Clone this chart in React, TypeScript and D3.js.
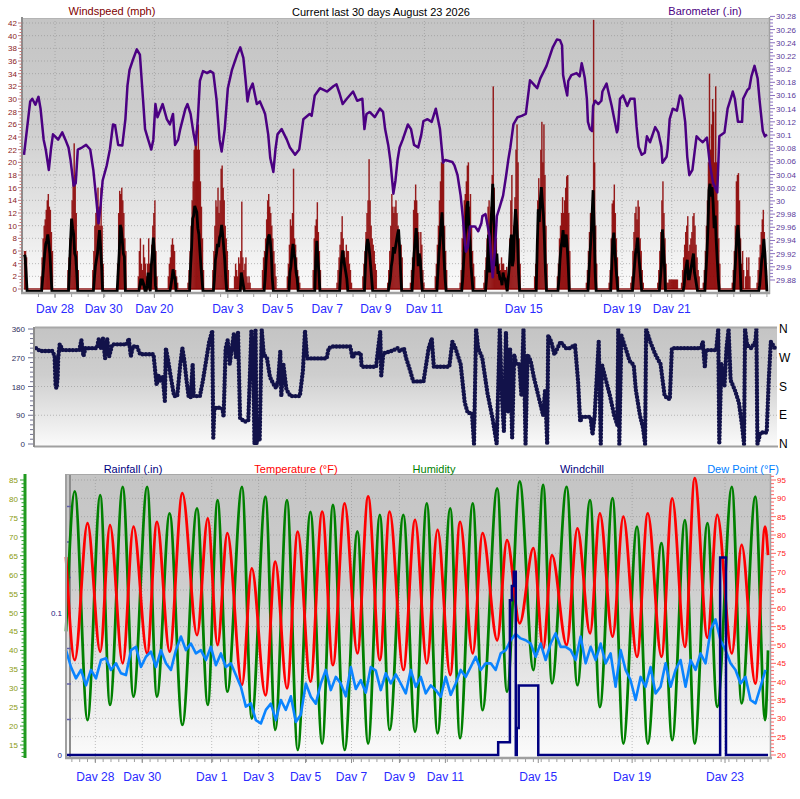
import * as d3 from 'd3'

const FONT = 'Liberation Sans, Arial, sans-serif'

// ---------- top panel: barometer (.in), [hour, value] ----------
const barometer: [number, number][] = [
  [0, 30.07], [4, 30.124], [6, 30.151], [8, 30.155], [11, 30.146], [14, 30.158], [16, 30.14], [19, 30.093],
  [21, 30.078], [24, 30.047], [26, 30.078], [28, 30.101], [30, 30.098], [33, 30.093], [37, 30.104], [40, 30.093],
  [43, 30.081], [45, 30.062], [48, 30.023], [50, 30.027], [52, 30.078], [56, 30.081], [60, 30.085], [64, 30.078],
  [67, 30.047], [70, 30.0], [72, 29.966], [74, 29.993], [76, 30.031], [80, 30.054], [83, 30.078], [86, 30.116],
  [88, 30.115], [91, 30.085], [95, 30.084], [98, 30.124], [100, 30.175], [102, 30.199], [105, 30.213], [109, 30.23],
  [112, 30.222], [115, 30.155], [117, 30.109], [120, 30.093], [123, 30.078], [125, 30.093], [127, 30.147], [129, 30.127],
  [134, 30.147], [138, 30.124], [141, 30.116], [144, 30.132], [146, 30.085], [149, 30.093], [151, 30.109], [156, 30.14],
  [158, 30.147], [161, 30.132], [164, 30.101], [166, 30.085], [168, 30.124], [170, 30.182], [173, 30.197], [177, 30.194],
  [180, 30.197], [183, 30.194], [186, 30.155], [189, 30.093], [191, 30.075], [194, 30.109], [197, 30.171], [201, 30.199],
  [206, 30.222], [209, 30.233], [212, 30.217], [214, 30.186], [216, 30.151], [218, 30.168], [221, 30.178], [225, 30.147],
  [228, 30.151], [231, 30.14], [233, 30.132], [236, 30.101], [238, 30.065], [241, 30.044], [243, 30.078], [245, 30.101],
  [249, 30.109], [254, 30.093], [257, 30.081], [262, 30.07], [266, 30.078], [270, 30.124], [276, 30.132], [278, 30.129],
  [281, 30.16], [286, 30.171], [293, 30.166], [299, 30.174], [302, 30.177], [305, 30.163], [308, 30.147], [312, 30.155],
  [318, 30.166], [322, 30.152], [327, 30.155], [329, 30.109], [331, 30.132], [334, 30.135], [339, 30.127], [344, 30.14],
  [347, 30.135], [349, 30.109], [352, 30.085], [354, 30.062], [357, 30.011], [359, 30.031], [361, 30.062], [363, 30.081],
  [366, 30.093], [371, 30.116], [374, 30.109], [377, 30.085], [381, 30.081], [384, 30.101], [386, 30.121], [390, 30.124],
  [394, 30.12], [398, 30.14], [402, 30.109], [405, 30.058], [407, 30.062], [414, 30.059], [416, 30.054], [419, 30.039],
  [422, 30.008], [424, 29.977], [427, 29.923], [429, 29.93], [431, 29.961], [436, 29.961], [439, 29.954], [442, 29.966],
  [443, 29.977], [446, 29.98], [450, 29.946], [452, 29.903], [453, 29.884], [455, 29.923], [457, 29.977], [460, 29.992],
  [463, 30.008], [466, 30.039], [468, 30.062], [470, 30.081], [473, 30.116], [477, 30.127], [481, 30.129], [485, 30.132],
  [489, 30.183], [492, 30.178], [496, 30.171], [499, 30.186], [505, 30.205], [511, 30.233], [515, 30.245], [518, 30.244],
  [520, 30.236], [521, 30.191], [523, 30.174], [525, 30.16], [526, 30.182], [529, 30.191], [534, 30.194], [537, 30.189],
  [539, 30.209], [540, 30.202], [542, 30.186], [544, 30.155], [545, 30.12], [547, 30.109], [549, 30.106], [550, 30.144],
  [552, 30.152], [555, 30.147], [558, 30.152], [559, 30.166], [563, 30.178], [564, 30.171], [568, 30.144], [571, 30.12],
  [573, 30.104], [574, 30.109], [576, 30.155], [579, 30.16], [583, 30.144], [586, 30.155], [590, 30.155], [592, 30.113],
  [594, 30.082], [597, 30.07], [600, 30.073], [602, 30.098], [605, 30.089], [610, 30.112], [613, 30.104], [616, 30.082],
  [617, 30.058], [621, 30.067], [622, 30.078], [624, 30.124], [627, 30.14], [631, 30.137], [634, 30.16], [636, 30.155],
  [639, 30.12], [641, 30.067], [643, 30.039], [646, 30.047], [648, 30.073], [650, 30.098], [653, 30.093], [656, 30.089],
  [660, 30.096], [663, 30.054], [666, 30.027], [670, 30.013], [672, 30.098], [677, 30.104], [680, 30.14], [684, 30.16],
  [685, 30.166], [687, 30.155], [690, 30.12], [694, 30.12], [695, 30.155], [699, 30.168], [701, 30.171], [703, 30.189],
  [706, 30.205], [709, 30.186], [711, 30.151], [714, 30.106], [716, 30.098], [718, 30.101],
]

// wind gusts (mph): windy stretches as [start hour, hourly values]
const gustBursts: [number, number[]][] = [
  [0, [6, 6, 5, 0]],
  [16, [2, 5, 8, 10, 11, 12.5, 14, 15, 13, 12.5, 9, 6, 0]],
  [42, [3, 5, 8, 11, 14, 17.5, 23, 18, 12, 6, 3, 0]],
  [66, [3, 6, 10, 12, 14, 16, 13, 10, 16, 10, 4, 0]],
  [90, [4, 12, 15.5, 15, 16, 14, 12, 8, 6, 0]],
  [110, [2, 6, 8, 4, 3, 7, 5, 4, 2, 4, 8, 4, 3, 7, 10, 12, 14, 6, 2, 0]],
  [139, [2, 4, 5, 7, 8, 7, 6, 3, 2, 1, 0]],
  [158, [1, 3, 6, 10, 14, 17, 22, 24, 25, 22, 26, 22, 17, 13, 8, 3, 0]],
  [182, [3, 6, 10, 14, 13, 16, 12, 14, 19, 19.5, 16, 14, 10, 8, 6, 3, 0]],
  [203, [2, 4, 3, 2, 5, 4, 6, 13.8, 5, 3, 4, 5, 2, 1, 2, 1, 0]],
  [230, [3, 5, 6, 8, 11, 14, 15, 13, 12, 10, 8, 6, 4, 2, 0]],
  [254, [2, 4, 7, 11, 10, 12, 19, 8, 7, 5, 3, 2, 1, 0]],
  [279, [3, 8, 10, 11, 13.7, 9, 6, 3, 0]],
  [302, [1, 3, 5, 7, 9, 11.5, 8, 6, 5, 7, 6, 6, 4, 3, 1, 0]],
  [327, [2, 4, 6, 9, 12, 14, 20.5, 14, 10, 8, 7, 6, 4, 3, 0]],
  [351, [1, 3, 6, 10, 15, 13, 12, 13, 14, 12, 10, 8, 6, 7, 5, 0]],
  [373, [1, 3, 5, 12.5, 14, 16.5, 14, 12, 9, 5, 9, 7, 3, 1, 0]],
  [397, [2, 4, 7, 10, 14, 17, 20, 21, 19.8, 10, 6, 3, 0]],
  [421, [1, 3, 8, 11, 14, 15, 17, 19.5, 20, 13, 15, 10, 6, 4, 2, 0]],
  [444, [1, 3, 5, 8, 13, 14, 6, 13, 18, 32, 16, 10, 8, 4, 3, 4, 3, 5, 4, 4, 3, 3, 3.5, 2, 4, 8, 14, 18, 8, 10, 14.5, 22, 26, 20, 8, 4, 0]],
  [493, [2, 4, 8, 14, 17.5, 14, 22, 26.4, 20, 26, 18, 10, 4, 0]],
  [515, [2, 4, 8, 10, 12, 14.5, 12, 14, 16, 17.8, 18, 12, 6, 0]],
  [543, [1, 3, 6, 9, 12, 10, 14, 42.5, 20, 10, 4, 0]],
  [565, [1, 3, 8, 13.5, 14, 16.5, 12, 8, 5, 2, 0]],
  [586, [1, 2, 6, 9, 12, 13, 11, 14, 13, 8, 6, 3, 1, 0]],
  [612, [1, 3, 6, 9, 14, 17, 12, 8, 4, 1, 1, 1.5, 1.5, 1.5, 1.5, 1.5, 1.5, 1.5, 1.5, 1.5, 0]],
  [635, [1, 3, 5, 7, 9, 10, 11.5, 6, 7, 8, 9, 11.5, 12, 10, 7, 5, 3, 2, 0]],
  [656, [1, 3, 6, 10, 14, 20, 34, 22, 26, 30, 28, 20, 32, 20, 14, 8, 4, 0]],
  [684, [1, 3, 6, 10, 17, 18, 18.3, 14, 8, 4, 6, 3, 0, 2, 5, 3, 5, 2, 0]],
  [708, [1, 3, 5, 7, 9, 11, 12.5, 9, 6, 3, 0]],
]

// average wind speed (mph): [start hour, hourly values]
const avgBursts: [number, number[]][] = [
  [0, [5.8, 5.6, 3, 0]],
  [16, [0, 0, 2, 4, 6, 7.5, 8, 9, 7.5, 6, 3, 0, 0]],
  [42, [0, 0, 4, 8, 11.5, 10, 9, 6, 5.5, 3, 0, 0]],
  [66, [0, 0, 2, 4, 5, 6, 8, 9.7, 7, 4, 0, 0]],
  [90, [0, 3, 6, 10.5, 10, 8, 6, 5.5, 0, 0]],
  [110, [0, 0, 1, 2, 1, 1.5, 1, 0, 0, 1, 3, 1, 0, 4, 6, 8.5, 6, 1, 0, 0]],
  [139, [0, 0, 0, 1, 2, 3.5, 2.5, 2, 0, 0, 0]],
  [158, [0, 0, 0, 4, 7, 11.5, 12, 13.5, 13, 12.5, 10, 9, 6.5, 4, 2, 0, 0]],
  [182, [0, 0, 2, 5, 6, 7.5, 7, 8.5, 9, 10.5, 9, 7, 5, 2, 0, 0, 0]],
  [203, [0, 0, 0, 0, 0, 0, 0, 3, 2, 1, 0]],
  [230, [0, 0, 0, 2, 5, 7, 8.5, 9, 8, 6, 2, 0]],
  [254, [0, 0, 0, 3, 4, 6, 7.5, 6, 5, 3, 2, 0]],
  [279, [0, 0, 0, 5, 8, 5, 3, 0]],
  [302, [0, 0, 0, 0, 3, 5, 6.5, 5, 4, 3, 2, 0]],
  [327, [0, 0, 0, 4, 7, 8.3, 7.5, 6, 4, 2, 0]],
  [351, [0, 0, 1, 2, 4, 5, 7, 6, 7, 8, 9, 9.8, 7, 3, 0]],
  [373, [0, 0, 0, 3, 6, 8, 10, 8, 4, 6, 5, 2, 0]],
  [397, [0, 0, 0, 3, 6, 8, 10.5, 12.5, 9, 5, 2, 0]],
  [421, [0, 0, 0, 2, 5, 8, 10, 13.5, 14.3, 10, 8, 4, 2, 0]],
  [444, [0, 0, 0, 2, 5, 9, 3, 10, 13, 17, 12, 8, 4, 6, 3, 3, 2, 2, 1, 3, 2, 2, 1, 0, 2, 4, 7, 9, 4, 5, 10, 13, 11, 8, 3, 0]],
  [493, [0, 0, 0, 7, 13, 11, 14.5, 16.5, 14, 12, 8, 3, 0]],
  [515, [0, 0, 2, 5, 7, 8, 9.7, 7, 8, 9, 7, 4, 0]],
  [543, [0, 0, 0, 3, 6, 8.5, 12, 16, 10, 3, 0]],
  [565, [0, 0, 0, 4, 8, 9.3, 6.5, 4, 2, 0]],
  [586, [0, 0, 0, 2, 4, 6, 7, 8.5, 6, 4, 2, 0]],
  [612, [0, 0, 0, 2, 4, 9.8, 7, 4, 0]],
  [635, [0, 0, 0, 1, 3, 4, 5, 2, 2, 3, 4, 5, 6, 3, 2, 1, 0]],
  [656, [0, 0, 0, 3, 6, 10, 16, 17, 15, 16.5, 14, 10, 12, 8, 5, 2, 0]],
  [684, [0, 0, 0, 3, 6, 9, 10.5, 8, 4, 0]],
  [708, [0, 0, 0, 1, 3, 5, 6, 8.3, 6, 3, 0]],
]

// ---------- middle panel: wind direction (degrees), [hour, value] ----------
const windDir: [number, number][] = [
  [1, 300], [5, 291], [17, 291], [19, 275], [20, 180], [21, 175], [22, 210], [22.5, 270], [24, 312], [27, 294],
  [43, 294], [45, 325], [47, 275], [49, 300], [60, 300], [62, 330], [64, 300], [66, 330], [68, 268], [70, 330],
  [72, 275], [75, 312], [89, 312], [91, 330], [93, 275], [95, 305], [99, 305], [102, 281], [115, 281], [117, 216],
  [118, 185], [120, 216], [122, 195], [124, 210], [126, 135], [127, 300], [129, 265], [132, 205], [135, 150], [138, 150],
  [141, 250], [143, 300], [145, 260], [147, 200], [149, 150], [151, 145], [153, 250], [154, 150], [160, 150], [163, 200],
  [166, 260], [169, 320], [172, 355], [173, 20], [174, 110], [177, 115], [182, 110], [183, 85], [185, 300], [187, 325],
  [189, 250], [191, 300], [193, 345], [195, 270], [197, 350], [199, 80], [204, 70], [207, 75], [210, 355], [212, 200],
  [213, 0], [214, 360], [215, 0], [217, 80], [218, 10], [220, 358], [222, 280], [225, 270], [228, 210], [231, 190],
  [234, 175], [236, 200], [238, 290], [239, 150], [241, 250], [244, 170], [248, 150], [257, 150], [260, 230], [262, 355],
  [264, 268], [270, 268], [283, 268], [285, 300], [289, 305], [306, 305], [308, 270], [311, 284], [316, 284], [317, 242],
  [331, 242], [333, 300], [335, 352], [336, 215], [338, 284], [345, 290], [352, 300], [354, 290], [358, 300], [360, 270],
  [364, 230], [367, 196], [377, 196], [382, 300], [385, 330], [387, 242], [402, 242], [405, 320], [408, 300], [413, 250],
  [417, 130], [420, 97], [424, 97], [426, 0], [428, 360], [430, 300], [434, 270], [439, 160], [444, 80], [448, 0],
  [451, 360], [453, 150], [455, 40], [457, 350], [459, 100], [461, 300], [463, 20], [465, 280], [467, 250], [470, 250],
  [472, 150], [474, 360], [476, 0], [478, 280], [481, 260], [484, 210], [490, 130], [493, 90], [495, 170], [497, 0],
  [498, 340], [501, 320], [504, 280], [507, 300], [510, 320], [515, 300], [519, 300], [524, 310], [527, 195], [529, 70],
  [531, 85], [539, 85], [541, 30], [543, 85], [547, 320], [549, 0], [550, 250], [554, 200], [558, 150], [562, 90],
  [565, 60], [566, 360], [567, 0], [569, 340], [573, 300], [577, 260], [581, 247], [583, 170], [587, 90], [590, 50],
  [592, 0], [593, 360], [597, 320], [602, 280], [607, 250], [611, 150], [616, 140], [618, 300], [634, 300], [646, 300],
  [648, 320], [650, 240], [651, 294], [661, 294], [663, 360], [664, 0], [666, 250], [669, 180], [671, 300], [673, 360],
  [675, 200], [679, 170], [683, 130], [686, 60], [688, 0], [689, 360], [691, 310], [695, 300], [699, 320], [700, 360],
  [701, 0], [704, 36], [710, 36], [712, 200], [714, 320], [718, 300],
]

// ---------- bottom panel ----------
// hours of the daily lows / highs of temperature (humidity turns the other way)
const extremaHours = [
  0, 9, 22, 35, 45, 58, 69, 83, 93, 106, 119, 134, 145, 155, 165, 180, 190, 204, 214, 226, 237,
  250, 262, 273, 285, 298, 309, 321, 331, 345, 357, 369, 380, 393, 403, 416, 426, 441, 451, 464, 478,
  488, 497, 512, 523, 536, 546, 559, 570, 584, 595, 609, 620, 633, 643, 656, 666, 681, 691, 705, 715, 718,
]
const temperature = [
  74, 45.9, 83.2, 48.2, 82.7, 45, 82.3, 47.7, 83.6, 48.2, 91.4, 52.7, 84.5, 50, 80.5, 39.1, 70.9, 36.3, 72.7, 38.2, 80.9,
  40, 86.4, 44.5, 88.6, 47.7, 90.5, 45.9, 86.4, 43.2, 84.1, 45, 81.4, 41.8, 83.6, 47.7, 80.5, 51.3, 78.6, 55.9, 76.4,
  49, 74.5, 50, 81.8, 53.2, 85.9, 52.3, 85, 46.8, 85.9, 46.8, 90, 49.5, 95.5, 52, 85.5, 47.7, 77.3, 39.5, 82.3, 74.5,
]
const humidity = [
  45, 82, 21.6, 81, 25.6, 83.2, 27.8, 83.2, 27.8, 76.2, 20.3, 77.5, 25.6, 79.7, 29.1, 83.2, 22, 80.6, 19, 79.7, 13.7,
  76.6, 15.4, 78.4, 13.7, 71.4, 15.4, 75.8, 19, 75.8, 18.5, 78.8, 18.1, 77.5, 16.8, 78.8, 24.2, 82.8, 29.1, 84.6, 34.8,
  83.7, 31.3, 83.2, 30.8, 79.7, 25, 80.2, 15.4, 72.7, 15.4, 68.3, 16.3, 74.4, 15.4, 73.6, 25.1, 83.2, 26, 80.6, 21.6, 40,
]
// dew point (°F), one reading every 5.11 hours
const dewStep = 5.11
const dewPoint = [
  48.6, 44, 40.9, 43.2, 39, 43.2, 40.9, 45.9, 46.4, 43.2, 45, 42.3, 41.8, 48.6, 49.5, 44, 46.8, 48.2, 44, 48.6,
  45, 43.2, 48.6, 52.3, 48.6, 50.4, 47.7, 48.6, 45.9, 49.5, 44.5, 47.7, 44, 45, 41.8, 38.6, 33.2, 34.1, 29.5, 28.6,
  32.3, 34, 29.5, 35, 32.3, 36, 29, 31, 39.5, 35.9, 34, 39.5, 43.2, 37.7, 41.3, 39.5, 36, 44, 38, 40.4,
  37, 44, 43, 37.7, 42.3, 39.5, 42, 39.5, 36.8, 43.2, 38.6, 41.3, 36.8, 39, 37.7, 35.9, 41.3, 36.4, 39.5, 43.2,
  41.3, 44, 46.8, 43.2, 45, 45, 43.2, 47.7, 48.6, 51.3, 53, 51.8, 51.3, 50.4, 46.8, 50.4, 45.9, 50.4, 53.2, 49.5,
  49.5, 48.6, 45.9, 52.3, 45, 49.5, 45.9, 50.4, 45, 47.7, 38.6, 48.6, 43.2, 40.4, 35, 41.3, 38.6, 44, 36.8, 38.6,
  45, 38.6, 43.2, 45.9, 38.6, 45.9, 43.2, 47.7, 45, 54, 57, 51.3, 48.6, 45, 43.2, 39.5, 41.3, 35, 34.1, 38.6, 43.2,
]
// rainfall (.in), [hour, value] held until the next entry
const rainfall: [number, number][] = [
  [0, 0], [442, 0.009], [454, 0.109], [456, 0.119], [458, 0.129], [460, 0], [461, 0.019], [463, 0.049],
  [483, 0], [669, 0.139], [675, 0], [718, 0],
]

// day labels, [label, hour]
const topDays: [string, number][] = [
  ['Dav 28', 30], ['Dav 30', 77], ['Dav 20', 126], ['Dav 3', 197], ['Dav 5', 245], ['Dav 7', 293],
  ['Dav 9', 340], ['Dav 11', 387], ['Dav 15', 483], ['Dav 19', 578], ['Dav 21', 626],
]
const bottomDays: [string, number][] = [
  ['Dav 28', 30], ['Dav 30', 78], ['Dav 1', 149], ['Dav 3', 197], ['Dav 5', 245], ['Dav 7', 292],
  ['Dav 9', 341], ['Dav 11', 388], ['Dav 15', 483], ['Dav 19', 579], ['Dav 23', 674],
]
const compass: [string, number][] = [['N', 360], ['W', 270], ['S', 180], ['E', 90], ['N', 0]]

const grid = { stroke: '#8c8c8c', strokeDasharray: '1 2', strokeOpacity: 0.55 }

const Background = ({ id }: { id: string }) => (
  <linearGradient id={id} x1='0' y1='0' x2='0' y2='1'>
    <stop offset='0' stopColor='#c4c4c4' />
    <stop offset='0.4' stopColor='#cecece' />
    <stop offset='1' stopColor='#fbfbfb' />
  </linearGradient>
)

export default function App() {
  // scales
  const xTop = d3.scaleLinear().domain([0, 720]).range([24, 769])
  const yWind = d3.scaleLinear().domain([0, 42]).range([289, 23])
  const yBaro = d3.scaleLinear().domain([29.88, 30.28]).range([280, 16.4])
  const xMid = d3.scaleLinear().domain([0, 720]).range([35, 777])
  const yDir = d3.scaleLinear().domain([0, 360]).range([444, 329])
  const xBot = d3.scaleLinear().domain([0, 720]).range([66, 770])
  const yTemp = d3.scaleLinear().domain([20, 95]).range([755, 480])
  const yHum = d3.scaleLinear().domain([15, 85]).range([745, 480])
  const yRain = d3.scaleLinear().domain([0, 0.1]).range([755, 613])

  // hourly wind tables built from the bursts
  const hours = d3.range(0, 719)
  const gust = hours.map(() => 0)
  const avg = hours.map(() => 0)
  gustBursts.forEach(([h0, vals]) => vals.forEach((v, i) => { gust[h0 + i] = v }))
  avgBursts.forEach(([h0, vals]) => vals.forEach((v, i) => { avg[h0 + i] = v }))

  const avgPath = d3.line<number>().x((h) => xTop(h)).y((h) => yWind(avg[h]))(hours)
  const baroPath = d3.line<[number, number]>().x((d) => xTop(d[0])).y((d) => yBaro(d[1]))(barometer)
  const dirPath = d3.line<[number, number]>().x((d) => xMid(d[0])).y((d) => yDir(d[1]))(windDir)

  const tempPath = d3.line<number>()
    .x((_, i) => xBot(extremaHours[i])).y((v) => yTemp(v)).curve(d3.curveMonotoneX)(temperature)
  const humPath = d3.line<number>()
    .x((_, i) => xBot(extremaHours[i])).y((v) => yHum(v)).curve(d3.curveMonotoneX)(humidity)
  const dewPath = d3.line<number>().x((_, i) => xBot(i * dewStep)).y((v) => yTemp(v))(dewPoint)
  const rainPath = d3.line<[number, number]>()
    .x((d) => xBot(d[0])).y((d) => yRain(d[1])).curve(d3.curveStepAfter)(rainfall)

  const baroLabels = d3.range(0, 21).map((i) => 29.88 + i * 0.02)
  const baroMinor = d3.range(0, 81).map((i) => 29.88 + i * 0.005)
  const fmtBaro = (v: number) => String(+v.toFixed(2))

  return (
    <svg width={800} height={799} style={{ position: 'fixed', left: 0, top: 0, background: '#fff' }} fontFamily={FONT}>
      <defs>
        <Background id='bg' />
      </defs>

      {/* ================= TOP PANEL ================= */}
      <rect x={23} y={18} width={746} height={274} fill='url(#bg)' />
      {d3.range(0, 43, 2).map((v) => (
        <line key={'gw' + v} x1={23} x2={769} y1={yWind(v)} y2={yWind(v)} {...grid} />
      ))}
      {topDays.map(([l, h]) => (
        <line key={'gv' + l} x1={xTop(h)} x2={xTop(h)} y1={18} y2={292} {...grid} />
      ))}

      {/* gusts */}
      <line x1={xTop(0)} x2={xTop(718)} y1={yWind(0)} y2={yWind(0)} stroke='#a85050' strokeWidth={2} />
      {hours.filter((h) => gust[h] > 0).map((h) => (
        <rect
          key={'g' + h}
          x={xTop(h) - 0.2}
          width={xTop(h + 1) - xTop(h) + 0.4}
          y={yWind(gust[h])}
          height={yWind(0) - yWind(gust[h])}
          fill='#8b0000'
          fillOpacity={0.88}
        />
      ))}
      <path d={avgPath ?? ''} fill='none' stroke='#000' strokeWidth={2.8} transform='translate(0,2.5)' />
      <path d={baroPath ?? ''} fill='none' stroke='#4b0082' strokeWidth={2.5} strokeLinejoin='round' />

      {/* frame */}
      <line x1={23} x2={769} y1={18.5} y2={18.5} stroke='#b4b4b4' />
      <line x1={22} x2={22} y1={17} y2={294} stroke='#8c8c8c' strokeWidth={2} />
      <line x1={21} x2={770} y1={293} y2={293} stroke='#a0a0a0' strokeWidth={2.5} />
      <line x1={769.5} x2={769.5} y1={17} y2={294} stroke='#a0a0a0' strokeWidth={1.5} />

      {/* left wind axis */}
      {d3.range(0, 42.5, 0.5).map((v) => (
        <line key={'wt' + v} x1={v % 2 === 0 ? 18 : 19.5} x2={22} y1={yWind(v)} y2={yWind(v)} stroke='#c07878' strokeWidth={1} />
      ))}
      {d3.range(0, 43, 2).map((v) => (
        <text key={'wl' + v} x={17} y={yWind(v) + 3} fontSize={8} textAnchor='end' fill='#8b1a1a'>{v}</text>
      ))}
      {/* right barometer axis */}
      {baroMinor.map((v, i) => (
        <line key={'bt' + i} x1={770} x2={i % 4 === 0 ? 775 : 773} y1={yBaro(v)} y2={yBaro(v)} stroke='#8a70c0' />
      ))}
      {baroLabels.map((v, i) => (
        <text key={'bl' + i} x={776} y={yBaro(v) + 3} fontSize={8} fill='#5a3a9a'>{fmtBaro(v)}</text>
      ))}
      {/* x axis */}
      {d3.range(14, 720, 16).map((h) => (
        <line key={'xt' + h} x1={xTop(h)} x2={xTop(h)} y1={294} y2={297} stroke='#a0a0a0' />
      ))}
      {topDays.map(([l, h]) => (
        <g key={'xl' + l}>
          <line x1={xTop(h)} x2={xTop(h)} y1={294} y2={298} stroke='#909090' />
          <text x={xTop(h)} y={313} fontSize={12} textAnchor='middle' fill='#2a2aff'>{l}</text>
        </g>
      ))}
      {/* headers */}
      <text x={112} y={15} fontSize={11} textAnchor='middle' fill='#800000'>Windspeed (mph)</text>
      <text x={381} y={16} fontSize={11} textAnchor='middle' fill='#000'>Current last 30 days August 23 2026</text>
      <text x={705} y={15} fontSize={11} textAnchor='middle' fill='#4b0082'>Barometer (.in)</text>

      {/* ================= MIDDLE PANEL ================= */}
      <rect x={35} y={327} width={742} height={120} fill='url(#bg)' />
      {[90, 180, 270].map((v) => (
        <line key={'gd' + v} x1={35} x2={777} y1={yDir(v)} y2={yDir(v)} {...grid} />
      ))}
      <path
        d={dirPath ?? ''}
        fill='none'
        stroke='#12124a'
        strokeWidth={4.4}
        strokeLinecap='round'
        strokeLinejoin='round'
        strokeDasharray='0 3.4'
      />
      <line x1={35} x2={777} y1={327.5} y2={327.5} stroke='#a8a8a8' strokeWidth={2} />
      <line x1={34} x2={778} y1={446.5} y2={446.5} stroke='#a0a0a0' strokeWidth={2} />
      <line x1={34} x2={34} y1={327} y2={447} stroke='#8c8c8c' strokeWidth={2} />
      {d3.range(0, 361, 15).map((v) => (
        <line key={'dt' + v} x1={v % 90 === 0 ? 28 : 30} x2={33} y1={yDir(v)} y2={yDir(v)} stroke='#707090' />
      ))}
      {[0, 90, 180, 270, 360].map((v) => (
        <text key={'dl' + v} x={25} y={yDir(v) + 3} fontSize={8} textAnchor='end' fill='#303060'>{v}</text>
      ))}
      {compass.map(([l, v]) => (
        <text key={'cl' + v} x={779} y={yDir(v) + 4} fontSize={12} fill='#000'>{l}</text>
      ))}

      {/* ================= BOTTOM PANEL ================= */}
      <rect x={66} y={474} width={704} height={283} fill='url(#bg)' />
      {d3.range(25, 96, 5).map((v) => (
        <line key={'gt' + v} x1={66} x2={770} y1={yTemp(v)} y2={yTemp(v)} {...grid} />
      ))}
      {bottomDays.map(([l, h]) => (
        <line key={'gb' + l} x1={xBot(h)} x2={xBot(h)} y1={474} y2={757} {...grid} />
      ))}
      <line x1={70} x2={70} y1={474} y2={757} stroke='#8c8c8c' strokeWidth={2} />
      {d3.range(0, 0.2, 0.025).map((v, i) => (
        <line key={'rt' + i} x1={67} x2={71} y1={yRain(v)} y2={yRain(v)} stroke='#6060a8' strokeWidth={1.5} />
      ))}

      <path d={humPath ?? ''} fill='none' stroke='#008000' strokeWidth={2.8} strokeLinejoin='round' />
      <path d={tempPath ?? ''} fill='none' stroke='#ff0000' strokeWidth={2.8} strokeLinejoin='round' />
      <path d={dewPath ?? ''} fill='none' stroke='#0a84ff' strokeWidth={2.6} strokeLinejoin='round' />
      <path d={rainPath ?? ''} fill='none' stroke='#000080' strokeWidth={2.5} />

      {/* frame */}
      <line x1={66} x2={770} y1={474.5} y2={474.5} stroke='#a8a8a8' />
      <line x1={66} x2={66} y1={474} y2={759} stroke='#a0a0a0' strokeWidth={2} />
      <line x1={65} x2={772} y1={758} y2={758} stroke='#a0a0a0' strokeWidth={2.5} />
      <line x1={770.5} x2={770.5} y1={474} y2={759} stroke='#a0a0a0' strokeWidth={1.5} />

      {/* humidity axis (left, green) */}
      <line x1={25} x2={25} y1={474} y2={758} stroke='#1f9a1f' strokeWidth={3} />
      {d3.range(12, 86, 1).map((v) => (
        <line key={'ht' + v} x1={v % 5 === 0 ? 20 : 21.5} x2={24} y1={yHum(v)} y2={yHum(v)} stroke='#2aa02a' />
      ))}
      {d3.range(15, 86, 5).map((v) => (
        <text key={'hl' + v} x={18} y={yHum(v) + 3} fontSize={8} textAnchor='end' fill='#8a9a10'>{v}</text>
      ))}
      {/* rainfall axis labels */}
      <text x={62} y={yRain(0.1) + 3} fontSize={8} textAnchor='end' fill='#202080'>0.1</text>
      <text x={62} y={yRain(0) + 3} fontSize={8} textAnchor='end' fill='#202080'>0</text>
      {/* temperature axis (right, red) */}
      {d3.range(20, 97, 1).map((v) => (
        <line key={'tt' + v} x1={771} x2={v % 5 === 0 ? 776 : 774} y1={yTemp(v)} y2={yTemp(v)} stroke='#ff6060' />
      ))}
      {d3.range(20, 96, 5).map((v) => (
        <text key={'tl' + v} x={777} y={yTemp(v) + 3} fontSize={8} fill='#ff2020'>{v}</text>
      ))}
      {/* x axis */}
      {d3.range(6, 720, 8).map((h) => (
        <line key={'bt' + h} x1={xBot(h)} x2={xBot(h)} y1={759} y2={762} stroke='#a0a0a0' />
      ))}
      {bottomDays.map(([l, h]) => (
        <g key={'bl' + l}>
          <line x1={xBot(h)} x2={xBot(h)} y1={759} y2={763} stroke='#909090' />
          <text x={xBot(h)} y={781} fontSize={12} textAnchor='middle' fill='#2a2aff'>{l}</text>
        </g>
      ))}
      {/* headers */}
      <text x={133} y={473} fontSize={11} textAnchor='middle' fill='#000080'>Rainfall (.in)</text>
      <text x={296} y={473} fontSize={11} textAnchor='middle' fill='#ff0000'>Temperature (°F)</text>
      <text x={434} y={473} fontSize={11} textAnchor='middle' fill='#008000'>Humidity</text>
      <text x={582} y={473} fontSize={11} textAnchor='middle' fill='#000080'>Windchill</text>
      <text x={743} y={473} fontSize={11} textAnchor='middle' fill='#0080ff'>Dew Point (°F)</text>
    </svg>
  )
}
